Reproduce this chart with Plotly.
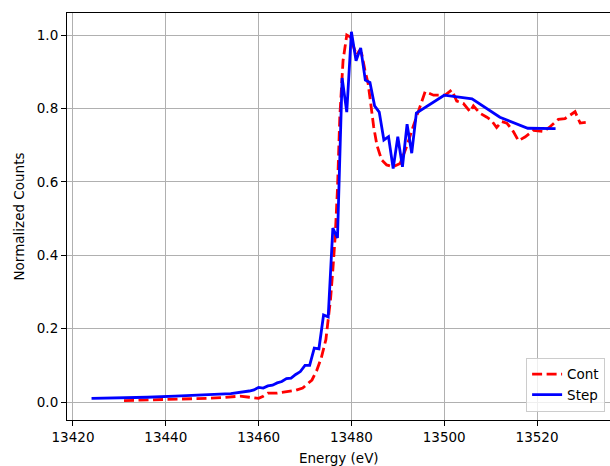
import plotly.graph_objects as go

# Cont (continuous scan) data
cont_energy = [13431, 13434, 13437, 13440, 13443, 13446, 13449, 13452, 13454, 13456,
               13458, 13460, 13461, 13462, 13464, 13466, 13468, 13469.5, 13470.5, 13471.5,
               13472.5, 13473.5, 13474.5, 13475, 13475.5, 13476, 13476.5, 13477, 13477.5, 13478.2,
               13479, 13479.7, 13480.4, 13481.1, 13481.6, 13482.2, 13482.9, 13483.6, 13484.2, 13484.8,
               13485.5, 13486.5, 13487.6, 13489, 13490.5, 13491.9, 13493.3, 13494.8, 13495.9, 13497.7,
               13500.2, 13501.6, 13502.7, 13504.1, 13505.6, 13506.3, 13507.7, 13509.2, 13510.2, 13511.3,
               13512.4, 13513.5, 13514.9, 13516.0, 13517.4, 13519.2, 13521.4, 13522.8, 13524.6, 13526,
               13527.1, 13528.2, 13529.3, 13530.5]
cont_counts = [0.004, 0.005, 0.004, 0.006, 0.007, 0.008, 0.010, 0.012, 0.014, 0.016,
               0.013, 0.010, 0.016, 0.024, 0.024, 0.027, 0.032, 0.038, 0.048, 0.060,
               0.085, 0.120, 0.170, 0.220, 0.280, 0.360, 0.450, 0.580, 0.777, 0.930,
               1.000, 0.995, 0.968, 0.945, 0.955, 0.950, 0.905, 0.868, 0.810, 0.750,
               0.700, 0.660, 0.646, 0.641, 0.650, 0.696, 0.750, 0.806, 0.846, 0.836,
               0.836, 0.850, 0.820, 0.814, 0.791, 0.807, 0.787, 0.776, 0.767, 0.748,
               0.764, 0.760, 0.737, 0.712, 0.722, 0.740, 0.737, 0.750, 0.770, 0.772,
               0.782, 0.791, 0.760, 0.762]

# Step (step scan) data
step_energy = [13424, 13430, 13436, 13442, 13448, 13454, 13458, 13459, 13460, 13461,
               13462, 13463, 13464, 13465, 13466, 13467, 13468, 13469, 13470, 13471,
               13472, 13473, 13474, 13475, 13476, 13477, 13478, 13479, 13480, 13481,
               13482, 13483, 13484, 13485, 13486, 13487, 13488, 13489, 13490, 13491,
               13492, 13493, 13494, 13500, 13506, 13512, 13518, 13524]
step_counts = [0.010, 0.011, 0.013, 0.016, 0.019, 0.023, 0.030, 0.033, 0.040, 0.038,
               0.044, 0.046, 0.052, 0.056, 0.064, 0.065, 0.075, 0.083, 0.100, 0.100,
               0.147, 0.145, 0.237, 0.232, 0.474, 0.447, 0.883, 0.790, 1.009, 0.930,
               0.965, 0.877, 0.871, 0.807, 0.790, 0.714, 0.723, 0.636, 0.723, 0.641,
               0.757, 0.678, 0.787, 0.836, 0.826, 0.776, 0.746, 0.745]

x_ticks = [13420, 13440, 13460, 13480, 13500, 13520]
y_ticks = [0.0, 0.2, 0.4, 0.6, 0.8, 1.0]

FONT = "DejaVu Sans"

fig = go.Figure()
fig.add_trace(go.Scatter(x=cont_energy, y=cont_counts, mode="lines", name="Cont",
                         line=dict(color="#ff0000", width=2.8, dash="10px,4.5px")))
fig.add_trace(go.Scatter(x=step_energy, y=step_counts, mode="lines", name="Step",
                         line=dict(color="#0000ff", width=2.8)))

fig.update_layout(
    width=610, height=466,
    margin=dict(l=67, r=0, t=13, b=46),
    paper_bgcolor="white", plot_bgcolor="white",
    font=dict(family=FONT, size=13.5, color="black"),
    showlegend=True,
    legend=dict(x=0.991, y=0.02, xanchor="right", yanchor="bottom",
                bgcolor="rgba(255,255,255,0.8)", bordercolor="#cccccc", borderwidth=1,
                font=dict(family=FONT, size=13.5), tracegroupgap=0,
                itemwidth=30),
    xaxis=dict(range=[13418.71, 13535.73], tickvals=x_ticks, tickformat="d",
               showgrid=True, gridcolor="#b0b0b0", gridwidth=1.1, zeroline=False,
               showline=True, linecolor="black", linewidth=1.1, mirror=True,
               ticks="outside", ticklen=5, tickwidth=1.1, tickcolor="black"),
    yaxis=dict(range=[-0.049, 1.06], tickvals=y_ticks, tickformat=".1f",
               showgrid=True, gridcolor="#b0b0b0", gridwidth=1.1, zeroline=False,
               showline=True, linecolor="black", linewidth=1.1,
               ticks="outside", ticklen=5, tickwidth=1.1, tickcolor="black"),
    annotations=[
        dict(text="Energy (eV)", xref="paper", yref="paper", x=0.5, y=0,
             yshift=-38, xanchor="center", yanchor="middle", showarrow=False,
             font=dict(family=FONT, size=13.5)),
        dict(text="Normalized Counts", xref="paper", yref="paper", x=0, y=0.5,
             xshift=-49, xanchor="center", yanchor="middle", textangle=-90,
             showarrow=False, font=dict(family=FONT, size=13.5)),
    ],
)

fig.write_html("out.html", config={"displayModeBar": False},
               post_script="document.body.style.margin='0';document.body.style.overflow='hidden';")
